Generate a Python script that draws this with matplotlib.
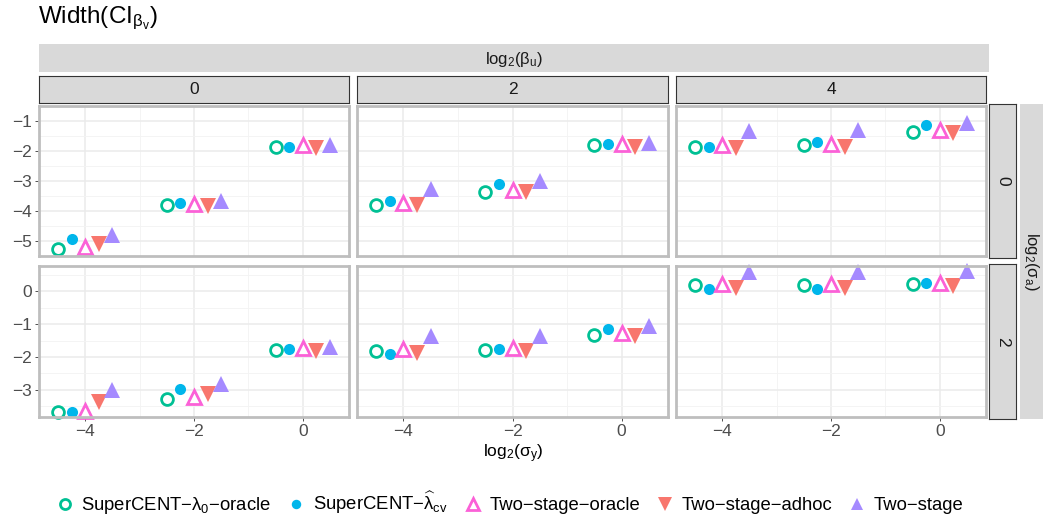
import matplotlib.pyplot as plt
import numpy as np
from matplotlib.lines import Line2D
from matplotlib.patches import Rectangle

plt.rcParams['font.family'] = ['Liberation Sans', 'DejaVu Sans']
plt.rcParams['mathtext.fontset'] = 'custom'
plt.rcParams['mathtext.rm'] = 'Liberation Sans'
plt.rcParams['mathtext.it'] = 'Liberation Sans:italic'

# facets and x positions
sigma_y = [-4, -2, 0]
beta_u = ['0', '2', '4']
sigma_a = ['0', '2']

methods = [r'SuperCENT−$\mathregular{\lambda_0}$−oracle',
           r'SuperCENT−$\mathregular{\widehat{\lambda}_{cv}}$',
           'Two−stage−oracle', 'Two−stage−adhoc', 'Two−stage']

# log width values, [sigma_a row][beta_u col][sigma_y]
sc_oracle = [[[-5.27, -3.79, -1.85], [-3.79, -3.35, -1.81], [-1.85, -1.80, -1.35]],
             [[-3.67, -3.26, -1.78], [-1.83, -1.78, -1.34], [0.17, 0.17, 0.22]]]
sc_cv = [[[-4.92, -3.73, -1.85], [-3.67, -3.11, -1.76], [-1.86, -1.69, -1.12]],
         [[-3.67, -2.96, -1.76], [-1.91, -1.75, -1.15], [0.07, 0.07, 0.25]]]
ts_oracle = [[[-5.20, -3.75, -1.80], [-3.73, -3.30, -1.76], [-1.80, -1.75, -1.31]],
             [[-3.64, -3.20, -1.73], [-1.77, -1.73, -1.27], [0.21, 0.21, 0.25]]]
ts_adhoc = [[[-5.10, -3.82, -1.90], [-3.80, -3.37, -1.85], [-1.90, -1.85, -1.39]],
            [[-3.36, -3.11, -1.82], [-1.87, -1.82, -1.37], [0.09, 0.09, 0.15]]]
ts_plain = [[[-4.79, -3.68, -1.81], [-3.26, -3.01, -1.73], [-1.33, -1.30, -1.05]],
            [[-3.01, -2.83, -1.71], [-1.37, -1.35, -1.06], [0.58, 0.58, 0.62]]]

series = [sc_oracle, sc_cv, ts_oracle, ts_adhoc, ts_plain]
colors = ['#00C094', '#00B6EB', '#FB61D7', '#F8766D', '#A58AFF']
styles = [dict(marker='o', ms=8.5, mfc='white', mew=2.0),
          dict(marker='o', ms=8.0, mew=0),
          dict(marker='^', ms=10.5, mfc='white', mew=2.0),
          dict(marker='v', ms=12, mew=0),
          dict(marker='^', ms=11, mew=0)]
dodge = np.linspace(-0.5, 0.5, len(methods))

W, H = 1043, 520
fig = plt.figure(figsize=(W / 100, H / 100), dpi=100)


def box(x0, y0, x1, y1):
    return [x0 / W, 1 - y1 / H, (x1 - x0) / W, (y1 - y0) / H]


col_x = [(39, 349), (357, 668), (676, 986)]
row_y = [(106, 256), (266, 417)]
row_lim = [(-5.39, -0.93), (-3.82, 0.76)]
row_ticks = [[-5, -4, -3, -2, -1], [-3, -2, -1, 0]]

for r in range(2):
    for c in range(3):
        ax = fig.add_axes(box(col_x[c][0], row_y[r][0], col_x[c][1], row_y[r][1]))
        ax.set_xlim(-4.85, 0.85)
        ax.set_ylim(*row_lim[r])
        ax.set_xticks([-4, -2, 0])
        ax.set_xticks([-3, -1], minor=True)
        ax.set_yticks(row_ticks[r])
        ax.set_yticks(np.arange(row_ticks[r][0] - 0.5, row_ticks[r][-1] + 0.6, 1.0), minor=True)
        ax.grid(which='major', color='#EBEBEB', lw=1.1)
        ax.grid(which='minor', color='#F3F3F3', lw=0.6)
        ax.set_axisbelow(True)
        for s in ax.spines.values():
            s.set_color('#BEBEBE')
            s.set_linewidth(2.0)
        ax.tick_params(which='minor', length=0)
        ax.tick_params(which='major', length=3, color='#333333', width=0.6,
                       labelsize=12.5, labelcolor='#4D4D4D', pad=2)
        if c != 0:
            ax.tick_params(axis='y', length=0, labelleft=False)
        else:
            ax.set_yticklabels([str(t).replace('-', '−') for t in row_ticks[r]])
        if r != 1:
            ax.tick_params(axis='x', length=0, labelbottom=False)
        else:
            ax.set_xticklabels([str(t).replace('-', '−') for t in sigma_y])
        for k, vals in enumerate(series):
            ax.plot(np.array(sigma_y) + dodge[k], vals[r][c], ls='none',
                    color=colors[k], mec=colors[k], clip_on=False, **styles[k])

# strips
strip_fill = '#D9D9D9'
top = fig.add_axes(box(39, 44, 989, 72))
top.axis('off')
top.add_patch(Rectangle((0, 0), 1, 1, transform=top.transAxes, color=strip_fill))
top.text(0.5, 0.45, r'log$_2$($\mathregular{\beta_u}$)', ha='center', va='center',
         fontsize=12, color='#1A1A1A')
for c in range(3):
    s = fig.add_axes(box(col_x[c][0], 76, col_x[c][1], 103))
    s.set_xticks([]); s.set_yticks([])
    s.set_facecolor(strip_fill)
    for sp in s.spines.values():
        sp.set_color('#333333'); sp.set_linewidth(0.8)
    s.text(0.5, 0.5, beta_u[c], ha='center', va='center', fontsize=12.5, color='#1A1A1A')
for r in range(2):
    s = fig.add_axes(box(989, row_y[r][0] - 2, 1016, row_y[r][1] + 2))
    s.set_xticks([]); s.set_yticks([])
    s.set_facecolor(strip_fill)
    for sp in s.spines.values():
        sp.set_color('#333333'); sp.set_linewidth(0.8)
    s.text(0.5, 0.5, sigma_a[r], ha='center', va='center', rotation=-90,
           fontsize=12.5, color='#1A1A1A')
side = fig.add_axes(box(1020, 104, 1043, 419))
side.axis('off')
side.add_patch(Rectangle((0, 0), 1, 1, transform=side.transAxes, color=strip_fill))
side.text(0.5, 0.5, r'log$_2$($\mathregular{\sigma_a}$)', ha='center', va='center',
          rotation=-90, fontsize=12, color='#1A1A1A')

fig.text(38 / W, 1 - 18 / H, r'Width(CI$_{\mathregular{\beta_v}}$)', fontsize=17.5,
         ha='left', va='center')
fig.text(513 / W, 1 - 454 / H, r'log$_2$($\mathregular{\sigma_y}$)', fontsize=12.5,
         ha='center', va='center')

handles = [Line2D([], [], ls='none', color=colors[k], mec=colors[k],
                  **{**styles[k], 'ms': styles[k]['ms'] * 0.85})
           for k in range(len(methods))]
fig.legend(handles, methods, loc='center', bbox_to_anchor=(510 / W, 1 - 503 / H),
           ncol=5, frameon=False, fontsize=13.3, handlelength=0.9, handletextpad=0.45,
           columnspacing=0.9)

fig.savefig('out.png', dpi=100)
